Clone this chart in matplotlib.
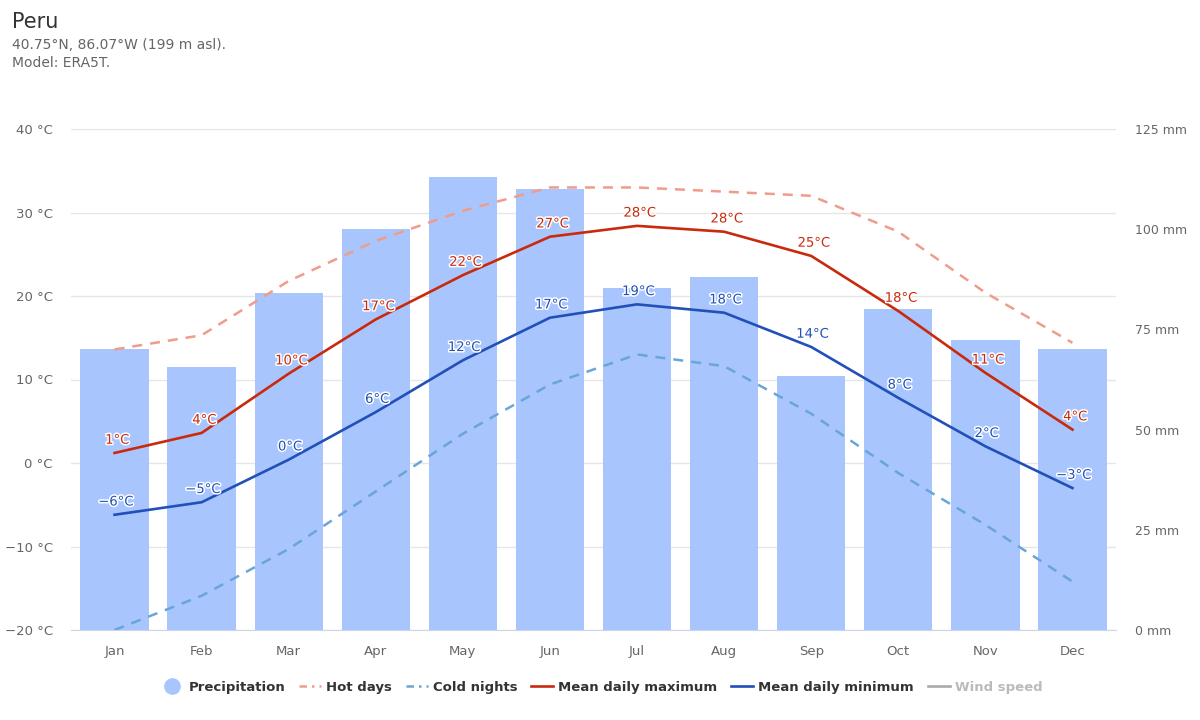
import matplotlib
matplotlib.use('Agg')
import matplotlib.pyplot as plt
import matplotlib.patheffects as pe
from matplotlib.lines import Line2D

months = ['Jan', 'Feb', 'Mar', 'Apr', 'May', 'Jun', 'Jul', 'Aug', 'Sep', 'Oct', 'Nov', 'Dec']
precipitation = [70, 65.5, 84, 100, 113, 110, 85.3, 88, 63.4, 80, 72.4, 70]
hot_days = [13.6, 15.3, 21.8, 26.6, 30.2, 33, 33, 32.5, 32, 27.7, 20.4, 14.4]
cold_nights = [-20, -15.9, -10.3, -3.4, 3.5, 9.4, 13, 11.6, 5.9, -1.2, -7.4, -14.2]
mean_max = [1.2, 3.6, 10.7, 17.2, 22.5, 27.1, 28.4, 27.7, 24.8, 18.2, 10.8, 4]
mean_min = [-6.2, -4.7, 0.4, 6.1, 12.3, 17.4, 19, 18, 13.9, 7.8, 2, -3]
max_labels = ['1°C', '4°C', '10°C', '17°C', '22°C', '27°C', '28°C', '28°C', '25°C', '18°C', '11°C', '4°C']
min_labels = ['−6°C', '−5°C', '0°C', '6°C', '12°C', '17°C', '19°C', '18°C', '14°C', '8°C', '2°C', '−3°C']
temp_ticks = [-20, -10, 0, 10, 20, 30, 40]
precip_ticks = [0, 25, 50, 75, 100, 125]

BAR = '#a8c6fd'
HOT = '#f09c8b'
COLD = '#6aa5d8'
RED = '#c92a0c'
BLUE = '#2150b8'
GREY = '#666666'

fig = plt.figure(figsize=(12, 7.2), dpi=100)
x_pos = list(range(12))

# three layers: temperature grid at the back, then bars, then the lines
ax = fig.add_axes([71 / 1200, 1 - 630 / 720, 1045 / 1200, 501 / 720])
ax.set_xlim(-0.5, 11.5)
ax.set_ylim(-20, 40)
ax.set_xticks(x_pos)
ax.set_xticklabels(months, fontsize=9.5, color=GREY)
ax.set_yticks(temp_ticks)
ax.set_yticklabels([f'{v} °C'.replace('-', '−') for v in temp_ticks], fontsize=9.5, color=GREY)
ax.grid(axis='y', color='#e6e6e6', lw=1)
ax.tick_params(axis='x', length=0, pad=11)
ax.tick_params(axis='y', length=0, pad=13)
for name in ['top', 'left', 'right']:
    ax.spines[name].set_visible(False)
ax.spines['bottom'].set_color('#ccd6eb')

rain = ax.twinx()
rain.bar(x_pos, precipitation, width=0.785, color=BAR)
rain.set_ylim(0, 125)
rain.set_yticks(precip_ticks)
rain.set_yticklabels([f'{v} mm' for v in precip_ticks], fontsize=9, color=GREY)
rain.tick_params(axis='y', length=0, pad=14)
for name in rain.spines:
    rain.spines[name].set_visible(False)

temp = ax.twinx()
temp.set_ylim(-20, 40)
temp.set_yticks([])
for name in temp.spines:
    temp.spines[name].set_visible(False)

temp.plot(x_pos, hot_days, color=HOT, lw=1.8, dashes=(4, 3.2))
temp.plot(x_pos, cold_nights, color=COLD, lw=1.8, dashes=(4, 3.2))
temp.plot(x_pos, mean_max, color=RED, lw=1.9, solid_joinstyle='round')
temp.plot(x_pos, mean_min, color=BLUE, lw=1.9, solid_joinstyle='round')

halo = [pe.withStroke(linewidth=2.2, foreground='white')]
for i in x_pos:
    temp.annotate(max_labels[i], (i, mean_max[i]), xytext=(2, 4.5), textcoords='offset points',
                  ha='center', va='bottom', fontsize=9.5, color=RED, path_effects=halo)
    temp.annotate(min_labels[i], (i, mean_min[i]), xytext=(1, 4.5), textcoords='offset points',
                  ha='center', va='bottom', fontsize=9.5, color=BLUE, path_effects=halo)

fig.text(12 / 1200, 1 - 22 / 720, 'Peru', fontsize=15, color='#333333', va='center')
fig.text(12 / 1200, 1 - 45 / 720, '40.75°N, 86.07°W (199 m asl).', fontsize=10, color=GREY, va='center')
fig.text(12 / 1200, 1 - 63 / 720, 'Model: ERA5T.', fontsize=10, color=GREY, va='center')

handles = [
    Line2D([], [], ls='none', marker='o', ms=11, color=BAR),
    Line2D([], [], color=HOT, lw=1.8, dashes=(3, 2, 1, 2)),
    Line2D([], [], color=COLD, lw=1.8, dashes=(3, 2, 1, 2)),
    Line2D([], [], color=RED, lw=1.9),
    Line2D([], [], color=BLUE, lw=1.9),
    Line2D([], [], color='#aaaaaa', lw=1.9),
]
names = ['Precipitation', 'Hot days', 'Cold nights', 'Mean daily maximum', 'Mean daily minimum', 'Wind speed']
leg = fig.legend(handles, names, loc='center', bbox_to_anchor=(602 / 1200, 1 - 687 / 720), ncol=6,
                 frameon=False, handlelength=1.65, handletextpad=0.4, columnspacing=1.05,
                 prop={'size': 9.5, 'weight': 'bold'})
for t, c in zip(leg.get_texts(), ['#333333'] * 5 + ['#bbbbbb']):
    t.set_color(c)

fig.savefig('out.png', dpi=100, facecolor='white')
